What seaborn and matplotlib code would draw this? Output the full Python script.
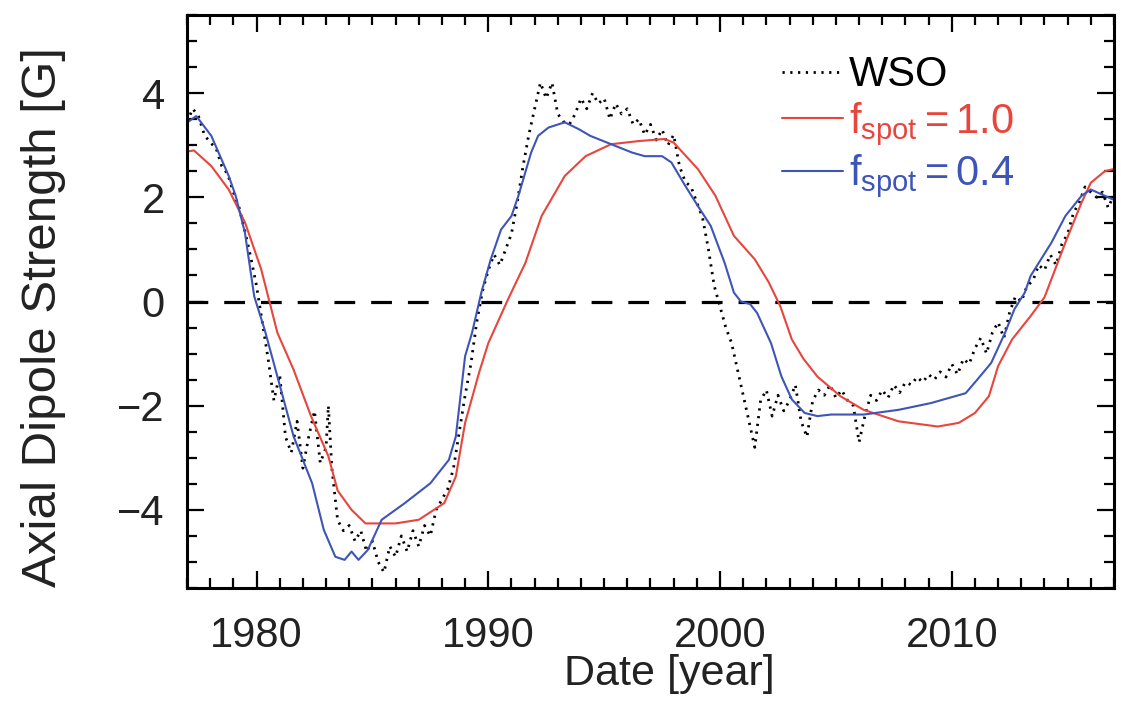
import numpy as np
import pandas as pd
import matplotlib
matplotlib.use("Agg")
import matplotlib.pyplot as plt
from matplotlib.ticker import MultipleLocator
import seaborn as sns

# ---- data ----
wso_year = [1977.00, 1977.25, 1977.50, 1977.75, 1978.00, 1978.25, 1978.50, 1978.75,
            1979.00, 1979.25, 1979.50, 1979.75, 1980.00, 1980.25, 1980.50, 1980.75,
            1981.00, 1981.25, 1981.50, 1981.75, 1982.00, 1982.25, 1982.50, 1982.75,
            1983.00, 1983.10, 1983.25, 1983.50, 1983.75, 1984.00, 1984.25, 1984.50,
            1984.75, 1985.00, 1985.25, 1985.50, 1985.75, 1986.00, 1986.25, 1986.50,
            1986.75, 1987.00, 1987.25, 1987.50, 1987.75, 1988.00, 1988.25, 1988.50,
            1988.75, 1989.00, 1989.25, 1989.50, 1989.75, 1990.00, 1990.25, 1990.50,
            1990.75, 1991.00, 1991.25, 1991.50, 1991.75, 1992.00, 1992.25, 1992.50,
            1992.75, 1993.00, 1993.25, 1993.50, 1993.75, 1994.00, 1994.25, 1994.50,
            1994.75, 1995.00, 1995.25, 1995.50, 1995.75, 1996.00, 1996.25, 1996.50,
            1996.75, 1997.00, 1997.25, 1997.50, 1997.75, 1998.00, 1998.25, 1998.50,
            1998.75, 1999.00, 1999.25, 1999.50, 1999.75, 2000.00, 2000.25, 2000.50,
            2000.75, 2001.00, 2001.25, 2001.50, 2001.75, 2002.00, 2002.25, 2002.50,
            2002.75, 2003.00, 2003.25, 2003.50, 2003.75, 2004.00, 2004.25, 2004.50,
            2004.75, 2005.00, 2005.25, 2005.50, 2005.75, 2006.00, 2006.25, 2006.50,
            2006.75, 2007.00, 2007.25, 2007.50, 2007.75, 2008.00, 2008.25, 2008.50,
            2008.75, 2009.00, 2009.25, 2009.50, 2009.75, 2010.00, 2010.25, 2010.50,
            2010.75, 2011.00, 2011.25, 2011.50, 2011.75, 2012.00, 2012.25, 2012.50,
            2012.75, 2013.00, 2013.25, 2013.50, 2013.75, 2014.00, 2014.25, 2014.50,
            2014.75, 2015.00, 2015.25, 2015.50, 2015.75, 2016.00, 2016.25, 2016.50,
            2016.75, 2016.95]
wso_val = [3.45, 3.70, 3.55, 3.20, 3.05, 2.95, 2.60, 2.45,
           2.10, 1.80, 1.35, 0.85, 0.30, -0.40, -1.10, -1.90,
           -1.40, -2.60, -2.90, -2.30, -3.20, -2.60, -2.10, -3.10,
           -2.80, -2.00, -3.20, -4.20, -4.40, -4.30, -4.60, -4.40,
           -4.80, -4.60, -5.00, -5.20, -4.70, -4.90, -4.50, -4.80,
           -4.40, -4.70, -4.30, -4.50, -4.00, -3.80, -3.60, -3.20,
           -2.50, -1.80, -1.20, -0.40, 0.20, 0.60, 0.90, 0.70,
           1.00, 1.30, 1.90, 2.60, 3.20, 3.70, 4.20, 3.90,
           4.20, 3.60, 3.45, 3.40, 3.60, 3.90, 3.70, 4.00,
           3.80, 3.90, 3.50, 3.80, 3.60, 3.70, 3.40, 3.50,
           3.20, 3.40, 3.10, 3.30, 3.00, 3.20, 2.60, 2.30,
           2.20, 1.90, 1.60, 1.00, 0.30, -0.10, -0.50, -0.80,
           -1.30, -1.80, -2.30, -2.80, -1.90, -1.70, -2.20, -1.80,
           -2.10, -1.90, -1.60, -2.30, -2.60, -1.90, -1.70, -1.80,
           -1.60, -1.85, -1.70, -1.90, -2.00, -2.70, -2.20, -1.80,
           -1.90, -1.70, -1.85, -1.60, -1.75, -1.55, -1.60, -1.45,
           -1.55, -1.40, -1.50, -1.35, -1.45, -1.20, -1.40, -1.10,
           -1.20, -0.90, -0.70, -1.00, -0.60, -0.40, -0.70, -0.20,
           0.10, 0.00, 0.30, 0.40, 0.70, 0.60, 0.90, 0.70,
           1.10, 1.30, 1.70, 1.90, 2.20, 2.10, 2.00, 2.10,
           1.80, 2.00]

red_year = [1976.9, 1977.3, 1978.05, 1978.8, 1979.5, 1980.2, 1980.9, 1981.6, 1982.35,
            1983.1, 1983.5, 1984.1, 1984.7, 1986.0, 1987.0, 1988.1, 1988.6, 1989.0,
            1989.6, 1990.0, 1990.85, 1991.6, 1992.3, 1993.3, 1994.2, 1995.3, 1996.5,
            1997.6, 1998.0, 1999.05, 1999.8, 2000.6, 2001.5, 2002.1, 2002.6, 2003.1,
            2003.6, 2004.2, 2005.2, 2006.2, 2007.7, 2009.4, 2010.3, 2011.0, 2011.6,
            2012.0, 2012.6, 2013.4, 2014.0, 2014.9, 2015.6, 2016.0, 2016.6, 2016.95]
red_val = [2.87, 2.90, 2.60, 2.15, 1.52, 0.62, -0.60, -1.31, -2.20,
           -2.97, -3.63, -4.00, -4.26, -4.26, -4.19, -3.87, -3.36, -2.33,
           -1.37, -0.80, 0.04, 0.74, 1.64, 2.41, 2.79, 3.02, 3.08,
           3.12, 3.05, 2.54, 2.03, 1.26, 0.81, 0.37, -0.09, -0.73,
           -1.10, -1.44, -1.82, -2.08, -2.30, -2.40, -2.33, -2.14, -1.82,
           -1.24, -0.73, -0.28, 0.08, 1.13, 1.90, 2.28, 2.50, 2.54]

blue_year = [1976.9, 1977.4, 1978.05, 1978.8, 1979.1, 1979.5, 1979.9, 1980.35, 1980.9,
             1981.6, 1982.4, 1982.9, 1983.4, 1983.8, 1984.1, 1984.4, 1984.8, 1985.4,
             1986.4, 1987.5, 1988.3, 1988.6, 1989.0, 1989.3, 1989.7, 1990.1, 1990.55,
             1991.0, 1991.3, 1991.85, 1992.15, 1992.6, 1993.3, 1993.9, 1994.4, 1995.3,
             1996.2, 1996.75, 1997.5, 1997.9, 1998.5, 1999.05, 1999.6, 2000.2, 2000.6,
             2000.9, 2001.3, 2001.6, 2002.2, 2002.65, 2003.1, 2003.65, 2004.2, 2004.8,
             2006.2, 2007.7, 2009.1, 2010.6, 2011.1, 2011.7, 2012.3, 2012.7, 2013.15,
             2013.4, 2014.3, 2014.9, 2015.6, 2016.0, 2016.6, 2016.95]
blue_val = [3.40, 3.56, 3.18, 2.41, 2.03, 1.32, 0.10, -0.54, -1.44,
            -2.59, -3.49, -4.38, -4.90, -4.96, -4.80, -4.96, -4.77, -4.19,
            -3.87, -3.49, -3.04, -2.59, -1.05, -0.60, 0.17, 0.80, 1.38,
            1.64, 2.03, 2.86, 3.18, 3.34, 3.44, 3.31, 3.18, 3.02,
            2.86, 2.79, 2.79, 2.67, 2.22, 1.83, 1.45, 0.74, 0.17,
            0.00, -0.05, -0.22, -0.80, -1.44, -1.88, -2.14, -2.20, -2.17,
            -2.17, -2.08, -1.95, -1.76, -1.50, -1.18, -0.60, -0.15, 0.17,
            0.49, 1.13, 1.64, 2.03, 2.15, 2.03, 1.96]

labels = ["WSO", r"$\mathregular{f_{spot}=1.0}$", r"$\mathregular{f_{spot}=0.4}$"]
xticks = [1980, 1990, 2000, 2010]
yticks = [-4, -2, 0, 2, 4]
ytick_labels = ["\u22124", "\u22122", "0", "2", "4"]

RED = "#e8453c"
BLUE = "#3e55b8"
TXT = "#222222"

sns.set_theme(style="ticks")
plt.rcParams["font.family"] = ["Liberation Sans", "DejaVu Sans"]
plt.rcParams["mathtext.fontset"] = "custom"
plt.rcParams["mathtext.rm"] = "Liberation Sans"
plt.rcParams["mathtext.it"] = "Liberation Sans"

fig = plt.figure(figsize=(11.21, 7.22), dpi=100)
ax = fig.add_axes([187 / 1121, 1 - 588 / 722, (1114 - 187) / 1121, (588 - 15) / 722])

df_wso = pd.DataFrame({"year": wso_year, "val": wso_val})
df_red = pd.DataFrame({"year": red_year, "val": red_val})
df_blue = pd.DataFrame({"year": blue_year, "val": blue_val})

ax.axhline(0, color="black", lw=2.3, dashes=(6.5, 5.0), zorder=1)
sns.lineplot(data=df_wso, x="year", y="val", ax=ax, color="black", lw=2.0,
             linestyle=(0, (0.8, 2.0)), label=labels[0], estimator=None, sort=False)
sns.lineplot(data=df_red, x="year", y="val", ax=ax, color=RED, lw=1.5,
             label=labels[1], estimator=None, sort=False)
sns.lineplot(data=df_blue, x="year", y="val", ax=ax, color=BLUE, lw=1.5,
             label=labels[2], estimator=None, sort=False)

ax.set_xlim(1977, 2017)
ax.set_ylim(-5.5, 5.5)
ax.set_xticks(xticks)
ax.set_yticks(yticks)
ax.set_yticklabels(ytick_labels)
ax.xaxis.set_minor_locator(MultipleLocator(1))
ax.yaxis.set_minor_locator(MultipleLocator(0.5))
ax.tick_params(which="both", direction="in", top=True, right=True, width=1.6,
               colors="black", labelsize=30, labelcolor=TXT)
ax.tick_params(which="major", length=12)
ax.tick_params(axis="x", which="major", pad=20)
ax.tick_params(axis="y", which="major", pad=16)
ax.tick_params(which="minor", length=7)
for s in ax.spines.values():
    s.set_linewidth(2.2)
    s.set_color("black")

ax.set_xlabel("Date [year]", fontsize=31, color=TXT)
ax.xaxis.set_label_coords(0.52, -0.115)
ax.set_ylabel("Axial Dipole Strength [G]", fontsize=35.5, color=TXT)
ax.yaxis.set_label_coords(-0.13, 0.472)

leg = ax.legend(loc="upper left", bbox_to_anchor=(0.642, 0.93), frameon=False,
                fontsize=30, handlelength=1.45, handletextpad=0.15, labelspacing=0.12,
                borderaxespad=0, borderpad=0, labelcolor="linecolor")

fig.savefig("out.png", dpi=100)
